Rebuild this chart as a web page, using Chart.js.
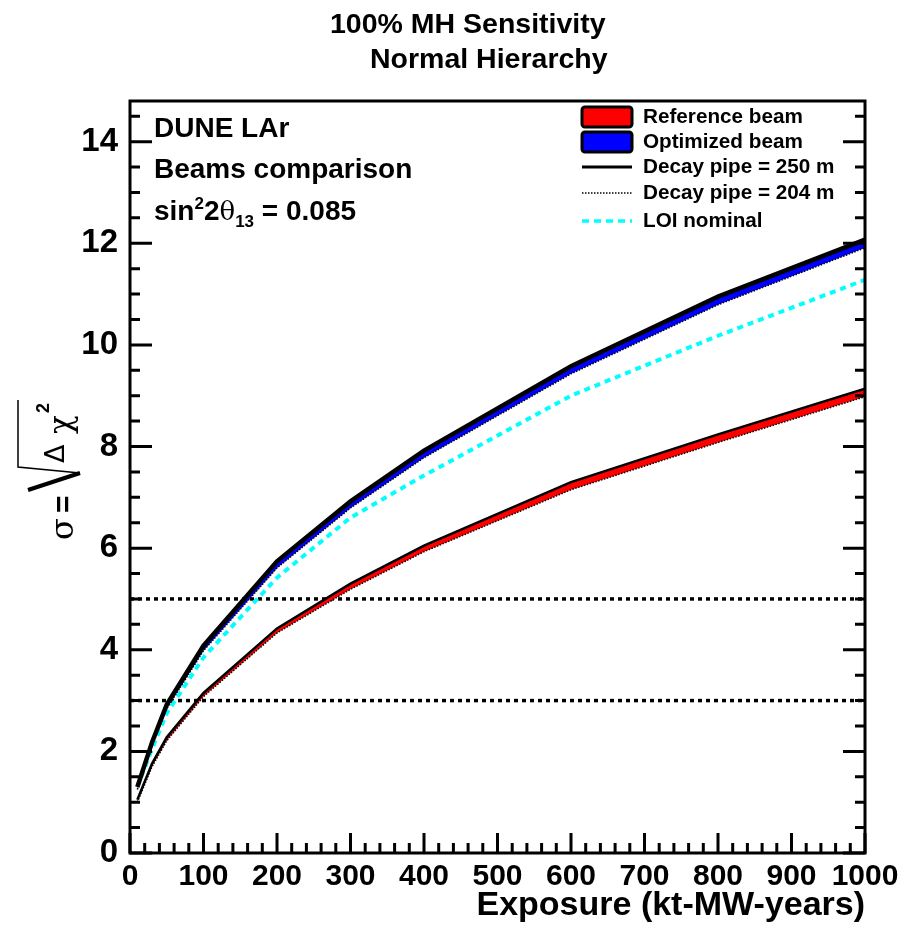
<!DOCTYPE html>
<html>
<head>
<meta charset="utf-8">
<script src="https://cdn.jsdelivr.net/npm/chart.js@4.4.1/dist/chart.umd.min.js"></script>
<style>
  html, body { margin: 0; padding: 0; background: #fff; }
  #wrap { width: 911px; height: 932px; }
</style>
</head>
<body>
<div id="wrap"><canvas id="chart" width="911" height="932"></canvas></div>
<script>
// Exposure points (kt-MW-years)
const exposure = [10, 30, 50, 100, 200, 300, 400, 600, 800, 1000];

// Sensitivity curves, sigma = sqrt(delta chi2)
const refPipe250 = [1.05, 1.76, 2.28, 3.15, 4.42, 5.30, 6.05, 7.30, 8.24, 9.14];
const refPipe204 = [1.00, 1.70, 2.21, 3.08, 4.33, 5.19, 5.93, 7.15, 8.08, 8.98];
const optPipe250 = [1.30, 2.18, 2.92, 4.08, 5.74, 6.92, 7.92, 9.58, 10.95, 12.07];
const optPipe204 = [1.25, 2.10, 2.84, 3.98, 5.61, 6.79, 7.78, 9.43, 10.79, 11.91];
const loiNominal = [1.30, 2.05, 2.75, 3.85, 5.42, 6.60, 7.43, 9.00, 10.18, 11.28];

// 3 and 5 sigma reference lines
const sigmaLevels = [3, 5];
const xRange = [0, 1000];

// Axis ticks
const xTicks = [0, 100, 200, 300, 400, 500, 600, 700, 800, 900, 1000];
const yTicks = [0, 2, 4, 6, 8, 10, 12, 14];

const FONT = '"Liberation Sans", Arial, Helvetica, sans-serif';

function toPoints(ys) {
    return exposure.map((x, i) => ({ x: x, y: ys[i] }));
}

// Datasets (index 0 drawn on top)
const datasets = [
    { label: 'ref250', data: toPoints(refPipe250), borderColor: '#000', borderWidth: 2.5, fill: false },
    { label: 'ref204', data: toPoints(refPipe204), borderColor: '#000', borderWidth: 1.5, borderDash: [1.5, 1.5],
      fill: '-1', backgroundColor: '#ff0000' },
    { label: 'opt250', data: toPoints(optPipe250), borderColor: '#000', borderWidth: 4.5, fill: false },
    { label: 'opt204', data: toPoints(optPipe204), borderColor: '#000', borderWidth: 1.5, borderDash: [1.5, 1.5],
      fill: '-1', backgroundColor: '#0000ff' },
    { label: 'loi', data: toPoints(loiNominal), borderColor: '#00ffff', borderWidth: 4, borderDash: [6, 5], fill: false }
];
sigmaLevels.forEach(level => {
    datasets.push({
        label: 'sigma' + level,
        data: xRange.map(x => ({ x: x, y: level })),
        borderColor: '#000', borderWidth: 3.5, borderDash: [4, 4], fill: false
    });
});

// Frame, inside ticks, texts, legend, y title
const decorations = {
    id: 'decorations',
    afterDraw(chart) {
        const ctx = chart.ctx;
        const a = chart.chartArea;
        const xs = chart.scales.x, ys = chart.scales.y;
        ctx.save();
        ctx.strokeStyle = '#000';
        ctx.lineWidth = 3;
        ctx.setLineDash([]);
        ctx.strokeRect(a.left, a.top, a.right - a.left, a.bottom - a.top);

        // y ticks (left and right)
        ctx.beginPath();
        for (let v = 0; v <= 14.5; v += 0.5) {
            const py = ys.getPixelForValue(v);
            const len = (v % 2 === 0) ? 22 : 10;
            ctx.moveTo(a.left, py); ctx.lineTo(a.left + len, py);
            ctx.moveTo(a.right, py); ctx.lineTo(a.right - len, py);
        }
        // x ticks (bottom)
        for (let v = 0; v <= 1000; v += 20) {
            const px = xs.getPixelForValue(v);
            const len = (v % 100 === 0) ? 20 : 10;
            ctx.moveTo(px, a.bottom); ctx.lineTo(px, a.bottom - len);
        }
        ctx.stroke();

        // titles
        ctx.fillStyle = '#000';
        ctx.textBaseline = 'alphabetic';
        ctx.textAlign = 'left';
        ctx.font = 'bold 28.5px ' + FONT;
        ctx.fillText('100% MH Sensitivity', 330, 33);
        ctx.fillText('Normal Hierarchy', 370, 68);

        // annotation in plot
        ctx.font = 'bold 28px ' + FONT;
        ctx.fillText('DUNE LAr', 154, 137);
        ctx.fillText('Beams comparison', 154, 178);
        let x = 154, base = 220;
        ctx.fillText('sin', x, base); x += ctx.measureText('sin').width;
        ctx.font = 'bold 17px ' + FONT;
        ctx.fillText('2', x, base - 11); x += ctx.measureText('2').width;
        ctx.font = 'bold 28px ' + FONT;
        ctx.fillText('2', x, base); x += ctx.measureText('2').width;
        ctx.font = '26px "DejaVu Serif", serif';
        ctx.fillText('\u03B8', x, base); x += ctx.measureText('\u03B8').width;
        ctx.font = 'bold 17px ' + FONT;
        ctx.fillText('13', x, base + 7); x += ctx.measureText('13').width;
        ctx.font = 'bold 28px ' + FONT;
        ctx.fillText(' = 0.085', x, base);

        // x axis title
        ctx.textAlign = 'right';
        ctx.font = 'bold 34px ' + FONT;
        ctx.fillText('Exposure (kt-MW-years)', a.right, 915);

        // legend
        ctx.textAlign = 'left';
        ctx.font = 'bold 20.7px ' + FONT;
        const lx = 582, lw = 50, tx = 643;
        const rows = [117, 142, 167, 193, 221];
        const fills = ['#ff0000', '#0000ff'];
        fills.forEach((c, i) => {
            ctx.fillStyle = c;
            ctx.strokeStyle = '#000';
            ctx.lineWidth = 3;
            ctx.beginPath();
            ctx.roundRect(lx, rows[i] - 10, lw, 20, 3);
            ctx.fill();
            ctx.stroke();
        });
        ctx.strokeStyle = '#000';
        ctx.lineWidth = 3;
        ctx.beginPath(); ctx.moveTo(lx, rows[2]); ctx.lineTo(lx + lw, rows[2]); ctx.stroke();
        ctx.lineWidth = 1.5; ctx.setLineDash([1.5, 1.5]);
        ctx.beginPath(); ctx.moveTo(lx, rows[3]); ctx.lineTo(lx + lw, rows[3]); ctx.stroke();
        ctx.strokeStyle = '#00ffff'; ctx.lineWidth = 3.5; ctx.setLineDash([7, 5]);
        ctx.beginPath(); ctx.moveTo(lx, rows[4]); ctx.lineTo(lx + lw, rows[4]); ctx.stroke();
        ctx.setLineDash([]);
        ctx.fillStyle = '#000';
        ctx.textBaseline = 'middle';
        ['Reference beam', 'Optimized beam', 'Decay pipe = 250 m', 'Decay pipe = 204 m', 'LOI nominal']
            .forEach((t, i) => ctx.fillText(t, tx, rows[i]));

        // y axis title: sigma = sqrt(Delta chi^2), rotated
        ctx.save();
        ctx.translate(73, 540);
        ctx.rotate(-Math.PI / 2);
        ctx.textBaseline = 'alphabetic';
        ctx.font = '32px "DejaVu Serif", serif';
        ctx.fillText('\u03C3', 0, 0);
        ctx.font = 'bold 30px ' + FONT;
        ctx.fillText('=', 27, 0);
        ctx.strokeStyle = '#000';
        ctx.lineWidth = 4;
        ctx.beginPath(); ctx.moveTo(50, -45); ctx.lineTo(67, 7); ctx.stroke();
        ctx.lineWidth = 1.5;
        ctx.beginPath(); ctx.moveTo(67, 7); ctx.lineTo(73, -55); ctx.lineTo(140, -55); ctx.stroke();
        ctx.font = '27px "DejaVu Sans", sans-serif';
        ctx.fillText('\u0394', 77, -9);
        ctx.font = '31px "DejaVu Serif", serif';
        ctx.fillText('\u03C7', 106, -2);
        ctx.font = 'bold 18px ' + FONT;
        ctx.fillText('2', 127, -24);
        ctx.restore();

        ctx.restore();
    }
};

new Chart(document.getElementById('chart'), {
    type: 'line',
    data: { datasets: datasets },
    options: {
        responsive: false,
        animation: false,
        parsing: false,
        layout: { padding: { left: 0, top: 101, right: 46, bottom: 0 } },
        elements: { point: { radius: 0 }, line: { tension: 0 } },
        plugins: { legend: { display: false }, tooltip: { enabled: false }, title: { display: false } },
        scales: {
            x: {
                type: 'linear', min: 0, max: 1000,
                afterBuildTicks: s => { s.ticks = xTicks.map(v => ({ value: v })); },
                afterFit: s => { s.height = 79; },
                grid: { display: false, drawTicks: false },
                border: { display: false },
                ticks: { color: '#000', padding: 6, maxRotation: 0, autoSkip: false,
                         callback: v => String(v),
                         font: { family: FONT, size: 30, weight: 'bold' } }
            },
            y: {
                type: 'linear', min: 0, max: 14.8,
                afterBuildTicks: s => { s.ticks = yTicks.map(v => ({ value: v })); },
                afterFit: s => { s.width = 130; },
                grid: { display: false, drawTicks: false },
                border: { display: false },
                ticks: { color: '#000', padding: 12, autoSkip: false,
                         callback: v => String(v),
                         font: { family: FONT, size: 33, weight: 'bold' } }
            }
        }
    },
    plugins: [decorations]
});
</script>
</body>
</html>
